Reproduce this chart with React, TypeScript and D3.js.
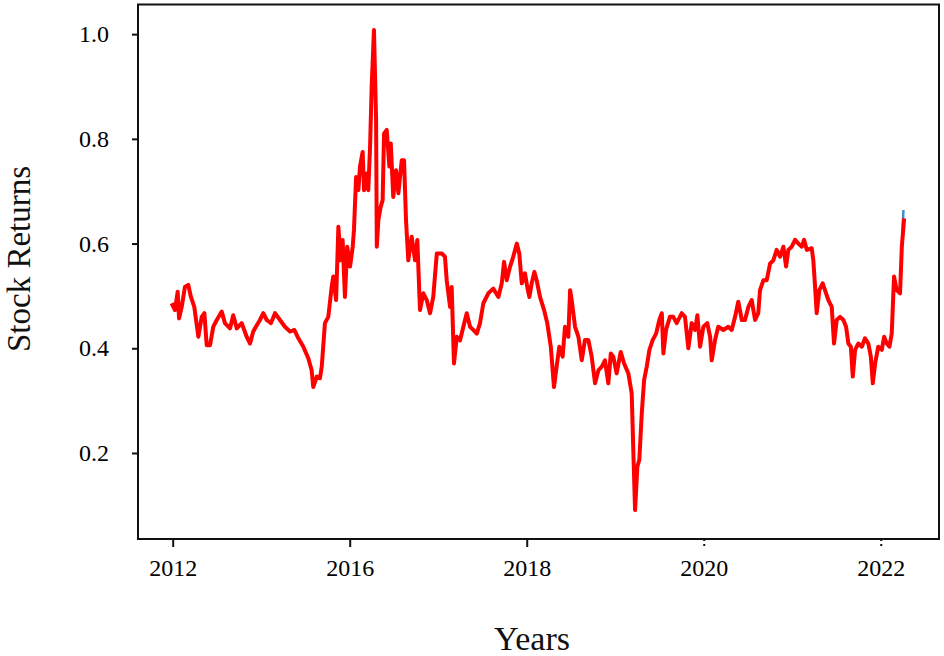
import React, { useEffect, useRef } from "react";
import * as d3 from "d3";

// observation position (100 units between labelled ticks) and return value
const obs = [
  -0.6, 1.3, 2.8, 3.6, 5.1, 6.9, 8.8, 10.3, 12.2, 14.5, 16.4, 17.9, 19.2, 21.1,
  22.9, 24.9, 27.7, 29.5, 32.4, 34.2, 36.2, 39.0, 41.8, 43.7, 45.5, 47.5, 49.3,
  51.2, 53.1, 55.5, 57.8, 60.6, 63.4, 66.3, 68.7, 71.0, 73.8, 76.6, 78.5, 79.4,
  81.4, 83.2, 84.2, 86.0, 87.9, 89.8, 90.7, 92.3, 93.6, 94.9, 96.0, 97.3, 98.6,
  100.2, 101.7, 102.4, 103.6, 104.9, 105.8, 107.3, 108.1, 109.6, 110.5, 111.5,
  112.4, 113.7, 114.9, 115.3, 116.2, 117.5, 118.6, 119.4, 120.9, 122.4, 123.2,
  124.6, 126.2, 127.5, 129.4, 130.7, 131.8, 133.1, 135.0, 136.9, 138.2, 139.7,
  141.6, 143.5, 145.4, 147.2, 149.2, 152.0, 153.8, 154.8, 156.7, 157.6, 158.9,
  160.5, 162.3, 164.2, 166.1, 168.0, 169.8, 171.8, 173.6, 175.5, 178.3, 181.1,
  184.0, 185.9, 187.2, 188.7, 190.6, 192.4, 194.4, 195.8, 197.2, 199.0, 200.3,
  201.5, 202.8, 204.3, 205.6, 207.5, 209.8, 211.6, 213.6, 215.4, 216.9, 218.4,
  220.3, 221.6, 223.5, 224.5, 225.4, 227.3, 229.2, 231.1, 232.9, 234.8, 236.7,
  238.6, 240.5, 242.4, 244.2, 246.1, 247.5, 248.9, 250.8, 253.1, 255.0, 257.4,
  259.3, 260.2, 261.2, 262.5, 263.6, 265.0, 266.3, 267.8, 269.3, 271.2, 273.1,
  274.9, 276.3, 277.2, 278.7, 280.9, 282.8, 284.7, 287.6, 289.4, 291.3, 293.2,
  295.1, 296.4, 297.9, 299.8, 302.0, 303.6, 304.5, 306.4, 308.2, 311.1, 313.9,
  315.8, 317.7, 319.5, 321.5, 323.3, 325.2, 327.1, 329.0, 330.8, 331.8, 333.7,
  335.6, 337.5, 339.3, 341.2, 343.1, 345.0, 346.5, 347.8, 349.7, 351.6, 353.4,
  355.4, 356.7, 358.2, 361.0, 361.9, 362.9, 363.8, 365.3, 367.2, 368.5, 370.4,
  372.3, 373.6, 375.1, 377.0, 378.9, 380.4, 381.7, 383.1, 384.2, 385.5, 387.3,
  389.3, 391.1, 393.0, 394.4, 395.5, 396.8, 398.6, 400.6, 401.9, 403.4, 404.9,
  406.2, 407.5, 409.0, 410.9, 411.9, 413.2,
];

const returns = [
  0.486, 0.473, 0.508, 0.457, 0.479, 0.517, 0.521, 0.498, 0.479, 0.422, 0.46,
  0.467, 0.406, 0.406, 0.441, 0.454, 0.47, 0.448, 0.438, 0.463, 0.438, 0.448,
  0.422, 0.409, 0.432, 0.444, 0.454, 0.467, 0.454, 0.448, 0.467, 0.454, 0.441,
  0.432, 0.435, 0.419, 0.403, 0.381, 0.358, 0.326, 0.346, 0.343, 0.365, 0.448,
  0.46, 0.517, 0.537, 0.492, 0.632, 0.568, 0.607, 0.498, 0.594, 0.556, 0.594,
  0.626, 0.727, 0.702, 0.747, 0.775, 0.702, 0.734, 0.702, 0.785, 0.899, 1.008,
  0.836, 0.594, 0.645, 0.67, 0.683, 0.81, 0.817, 0.747, 0.791, 0.689, 0.74,
  0.696, 0.759, 0.759, 0.645, 0.568, 0.613, 0.568, 0.607, 0.473, 0.505, 0.492,
  0.467, 0.498, 0.581, 0.581, 0.575, 0.53, 0.479, 0.517, 0.371, 0.422, 0.415,
  0.441, 0.467, 0.441, 0.435, 0.428, 0.448, 0.486, 0.505, 0.514, 0.498, 0.524,
  0.565, 0.53, 0.556, 0.575, 0.6, 0.581, 0.524, 0.543, 0.517, 0.498, 0.524,
  0.546, 0.53, 0.498, 0.473, 0.448, 0.403, 0.326, 0.365, 0.403, 0.384, 0.441,
  0.422, 0.511, 0.492, 0.441, 0.422, 0.377, 0.416, 0.416, 0.384, 0.333, 0.358,
  0.365, 0.377, 0.333, 0.39, 0.384, 0.352, 0.393, 0.371, 0.352, 0.314, 0.206,
  0.091, 0.174, 0.187, 0.276, 0.339, 0.365, 0.397, 0.416, 0.428, 0.454, 0.467,
  0.39, 0.435, 0.46, 0.46, 0.448, 0.467, 0.46, 0.4, 0.448, 0.435, 0.463, 0.403,
  0.441, 0.448, 0.422, 0.377, 0.416, 0.441, 0.435, 0.441, 0.435, 0.46, 0.489,
  0.454, 0.454, 0.479, 0.492, 0.454, 0.467, 0.511, 0.53, 0.53, 0.562, 0.568,
  0.588, 0.575, 0.594, 0.556, 0.588, 0.594, 0.607, 0.6, 0.594, 0.607, 0.588,
  0.591, 0.568, 0.517, 0.467, 0.511, 0.524, 0.511, 0.492, 0.479, 0.409, 0.454,
  0.46, 0.454, 0.441, 0.409, 0.403, 0.346, 0.397, 0.409, 0.403, 0.419, 0.409,
  0.384, 0.333, 0.371, 0.403, 0.397, 0.422, 0.409, 0.403, 0.428, 0.537, 0.511,
  0.505, 0.594, 0.648,
];

// blue series only shows at the very end, under the red one
const blueObs = [411.9, 412.8];
const blueReturns = [0.594, 0.664];

const xTickPos = [0, 100, 200, 300, 400];
const xTickLabels = ["2012", "2016", "2018", "2020", "2022"];
const dottedTicks = ["2020", "2022"];
const yTicks = [0.2, 0.4, 0.6, 0.8, 1.0];

const App = () => {
  const svgRef = useRef<SVGSVGElement>(null);

  useEffect(() => {
    const width = 944;
    const height = 656;
    const margin = { top: 4.5, right: 5, bottom: 117, left: 138 };
    const font = "'Liberation Serif', 'Times New Roman', serif";

    const svg = d3.select(svgRef.current);
    svg.selectAll("*").remove();

    const x = d3
      .scaleLinear()
      .domain([-19.6, 432.9])
      .range([margin.left, width - margin.right]);

    const y = d3
      .scaleLinear()
      .domain([0.0357, 1.0566])
      .range([height - margin.bottom, margin.top]);

    const line = d3
      .line<[number, number]>()
      .x((d) => x(d[0]))
      .y((d) => y(d[1]));

    const blue: [number, number][] = blueObs.map((t, i) => [t, blueReturns[i]]);
    const red: [number, number][] = obs.map((t, i) => [t, returns[i]]);

    svg
      .append("path")
      .datum(blue)
      .attr("fill", "none")
      .attr("stroke", "#3a8fd0")
      .attr("stroke-width", 2.5)
      .attr("d", line);

    svg
      .append("path")
      .datum(red)
      .attr("fill", "none")
      .attr("stroke", "#ff0000")
      .attr("stroke-width", 4)
      .attr("stroke-linejoin", "round")
      .attr("d", line);

    // Frame
    svg
      .append("rect")
      .attr("x", margin.left)
      .attr("y", margin.top)
      .attr("width", width - margin.left - margin.right)
      .attr("height", height - margin.top - margin.bottom)
      .attr("fill", "none")
      .attr("stroke", "#111")
      .attr("stroke-width", 2);

    // Y axis
    const yAxis = svg
      .append("g")
      .attr("transform", `translate(${margin.left},0)`)
      .call(d3.axisLeft(y).tickValues(yTicks).tickSize(6).tickPadding(23).tickFormat(d3.format(".1f")));
    yAxis.select(".domain").remove();
    yAxis.selectAll("line").attr("stroke", "#111").attr("stroke-width", 2);
    yAxis
      .selectAll("text")
      .attr("fill", "#000")
      .style("font-family", font)
      .style("font-size", "24px");

    // X axis
    const xAxis = svg
      .append("g")
      .attr("transform", `translate(0,${height - margin.bottom})`)
      .call(
        d3
          .axisBottom(x)
          .tickValues(xTickPos)
          .tickSize(8)
          .tickPadding(12)
          .tickFormat((d, i) => xTickLabels[i])
      );
    xAxis.select(".domain").remove();
    xAxis
      .selectAll(".tick line")
      .attr("stroke", "#111")
      .attr("stroke-width", 2)
      .attr("stroke-dasharray", (d, i) => (dottedTicks.includes(xTickLabels[i]) ? "2,3" : null));
    xAxis
      .selectAll("text")
      .attr("fill", "#000")
      .style("font-family", font)
      .style("font-size", "24px");

    // Axis titles
    svg
      .append("text")
      .attr("x", 532)
      .attr("y", 650)
      .attr("text-anchor", "middle")
      .attr("fill", "#111")
      .style("font-family", font)
      .style("font-size", "34px")
      .text("Years");

    svg
      .append("text")
      .attr("transform", `translate(30,259) rotate(-90)`)
      .attr("text-anchor", "middle")
      .attr("fill", "#111")
      .style("font-family", font)
      .style("font-size", "33px")
      .text("Stock Returns");
  }, []);

  return (
    <svg
      ref={svgRef}
      width={944}
      height={656}
      style={{ position: "absolute", left: 0, top: 0, background: "#fff" }}
    />
  );
};

export default App;
